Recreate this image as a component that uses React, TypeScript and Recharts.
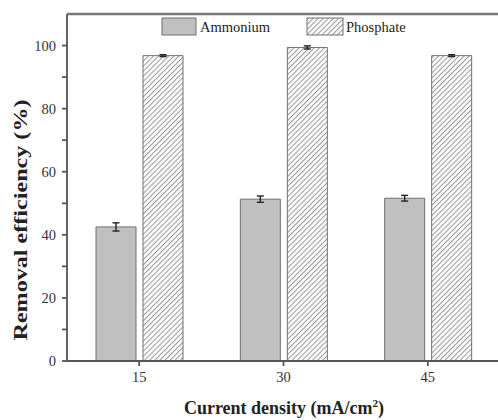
import React from 'react';
import { BarChart, Bar, XAxis, YAxis, ErrorBar, Legend, ReferenceLine, Label } from 'recharts';

const categories = ['15', '30', '45'];
const ammonium = [42.5, 51.3, 51.6];
const ammoniumErr = [1.3, 1.0, 0.9];
const phosphate = [96.8, 99.4, 96.8];
const phosphateErr = [0.3, 0.5, 0.3];
const yTicks = [0, 10, 20, 30, 40, 50, 60, 70, 80, 90, 100];
const seriesNames = ['Ammonium', 'Phosphate'];

const data = categories.map((c, i) => ({
  cat: c,
  ammonium: ammonium[i],
  ammoniumErr: ammoniumErr[i],
  phosphate: phosphate[i],
  phosphateErr: phosphateErr[i],
}));

const FONT = 'Liberation Serif, Times New Roman, serif';
const AXIS = '#555';

const LegendContent = () => (
  <svg width={250} height={22} style={{ display: 'block', overflow: 'visible' }}>
    <rect x={1} y={1} width={34} height={17} fill="#c0c0c0" stroke="#707070" strokeWidth={1} />
    <text x={39} y={15} fontFamily={FONT} fontSize={14.5} fill="#222">{seriesNames[0]}</text>
    <rect x={146} y={1} width={36} height={17} fill="url(#hatch)" stroke="#707070" strokeWidth={1} />
    <text x={185} y={15} fontFamily={FONT} fontSize={14.5} fill="#222">{seriesNames[1]}</text>
  </svg>
);

export default function App() {
  return (
    <div style={{ position: 'absolute', left: 0, top: 0, width: 498, height: 420, overflow: 'hidden', background: '#fff' }}>
      <BarChart
        width={510}
        height={420}
        data={data}
        margin={{ top: 14, right: 10, left: 0, bottom: 29 }}
        barSize={40}
        barGap={7}
      >
        <defs>
          <pattern id="hatch" patternUnits="userSpaceOnUse" width={3.6} height={3.6} patternTransform="rotate(45)">
            <rect x={0} y={0} width={3.6} height={3.6} fill="#fff" />
            <line x1={0.5} y1={0} x2={0.5} y2={3.6} stroke="#9a9a9a" strokeWidth={1.1} />
          </pattern>
        </defs>
        <XAxis
          dataKey="cat"
          height={30}
          stroke={AXIS}
          strokeWidth={1.8}
          tickSize={5}
          tickMargin={6}
          tick={{ fill: '#333', fontSize: 14.5, fontFamily: FONT }}
        >
          <Label
            content={() => (
              <text x={284} y={414} textAnchor="middle" fontFamily={FONT} fontWeight="bold" fontSize={18} fill="#222">
                Current density (mA/cm
                <tspan dy={-7} fontSize={11}>2</tspan>
                <tspan dy={7}>)</tspan>
              </text>
            )}
          />
        </XAxis>
        <YAxis
          width={67}
          domain={[0, 110]}
          ticks={yTicks}
          interval={0}
          stroke={AXIS}
          strokeWidth={1.8}
          tickSize={5}
          tickMargin={6}
          tickFormatter={(v: number) => (v % 20 === 0 ? String(v) : '')}
          tick={{ fill: '#333', fontSize: 14.5, fontFamily: FONT }}
        >
          <Label
            content={() => (
              <text
                x={0}
                y={0}
                transform="translate(27, 220) rotate(-90) scale(1.27, 1)"
                textAnchor="middle"
                fontFamily={FONT}
                fontWeight="bold"
                fontSize={19}
                fill="#222"
              >
                Removal efficiency (%)
              </text>
            )}
          />
        </YAxis>
        <ReferenceLine y={110} stroke="#777" strokeWidth={2.5} ifOverflow="visible" />
        <Legend
          verticalAlign="middle"
          align="center"
          layout="horizontal"
          wrapperStyle={{ position: 'absolute', top: 17, left: 161, width: 'auto' }}
          content={() => <LegendContent />}
        />
        <Bar dataKey="ammonium" name={seriesNames[0]} fill="#c0c0c0" stroke="#707070" strokeWidth={1} isAnimationActive={false}>
          <ErrorBar dataKey="ammoniumErr" width={3.5} stroke="#222" strokeWidth={1.4} isAnimationActive={false} />
        </Bar>
        <Bar dataKey="phosphate" name={seriesNames[1]} fill="url(#hatch)" stroke="#707070" strokeWidth={1} isAnimationActive={false}>
          <ErrorBar dataKey="phosphateErr" width={3.5} stroke="#222" strokeWidth={1.4} isAnimationActive={false} />
        </Bar>
      </BarChart>
    </div>
  );
}
